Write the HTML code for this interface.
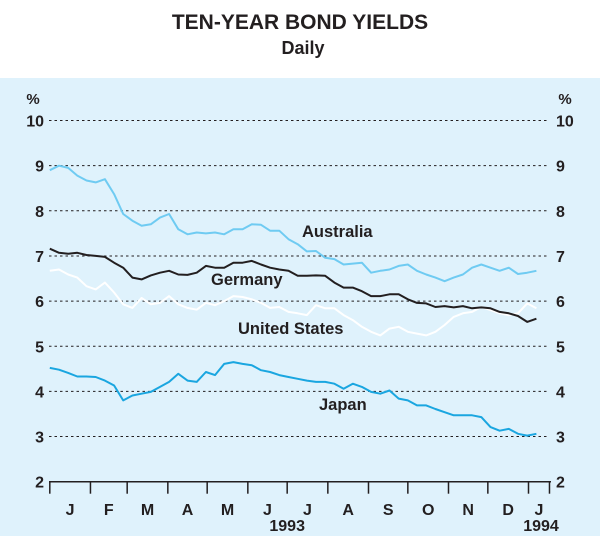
<!DOCTYPE html>
<html><head><meta charset="utf-8"><style>
body{margin:0;width:600px;height:536px;background:#fff;font-family:"Liberation Sans",Arial,sans-serif;overflow:hidden}
</style></head><body>
<svg id="c" width="600" height="536" xmlns="http://www.w3.org/2000/svg" font-family="Liberation Sans, Arial, sans-serif">
<text x="300" y="29" text-anchor="middle" font-size="21" font-weight="bold" fill="#231f20">TEN-YEAR BOND YIELDS</text>
<text x="303" y="54" text-anchor="middle" font-size="18" font-weight="bold" fill="#231f20">Daily</text>
<rect x="0" y="78" width="600" height="458" fill="#dff2fc"/>
<g id="grid"></g><g id="axes"></g><g id="lines"></g>
<text x="302" y="237" font-size="16.5" font-weight="bold" fill="#231f20">Australia</text>
<text x="211" y="285" font-size="16.5" font-weight="bold" fill="#231f20">Germany</text>
<text x="238" y="334" font-size="16.5" font-weight="bold" fill="#231f20">United States</text>
<text x="319" y="410" font-size="16.5" font-weight="bold" fill="#231f20">Japan</text>
</svg>
<script>
const yTicks=[2,3,4,5,6,7,8,9,10];
const monthLabels=["J","F","M","A","M","J","J","A","S","O","N","D","J"];
const monthStartDays=[0,31,59,90,120,151,181,212,243,273,304,334,365];
const australia=[8.90,9.0,8.95,8.78,8.67,8.63,8.7,8.37,7.93,7.78,7.67,7.70,7.85,7.93,7.59,7.48,7.52,7.5,7.52,7.48,7.59,7.59,7.7,7.69,7.56,7.56,7.37,7.26,7.1,7.11,6.96,6.93,6.81,6.83,6.85,6.63,6.67,6.7,6.78,6.81,6.67,6.59,6.52,6.44,6.52,6.59,6.74,6.81,6.74,6.67,6.74,6.6,6.63,6.67];
const germany=[7.16,7.07,7.05,7.07,7.02,7.0,6.98,6.85,6.74,6.52,6.48,6.57,6.63,6.67,6.59,6.58,6.63,6.78,6.74,6.74,6.85,6.85,6.89,6.81,6.74,6.7,6.67,6.56,6.56,6.57,6.56,6.41,6.3,6.3,6.22,6.11,6.11,6.15,6.15,6.04,5.96,5.95,5.87,5.89,5.86,5.89,5.84,5.86,5.84,5.76,5.73,5.67,5.54,5.61];
const unitedStates=[6.67,6.7,6.59,6.52,6.33,6.26,6.41,6.19,5.93,5.85,6.07,5.93,5.96,6.11,5.93,5.85,5.81,5.96,5.91,6.0,6.11,6.09,6.04,5.96,5.85,5.87,5.76,5.73,5.69,5.91,5.84,5.84,5.69,5.58,5.43,5.32,5.24,5.39,5.43,5.32,5.28,5.24,5.32,5.47,5.65,5.73,5.76,5.87,5.8,5.73,5.69,5.73,5.95,5.84];
const japan=[4.52,4.48,4.41,4.33,4.33,4.32,4.24,4.13,3.8,3.91,3.95,3.99,4.1,4.21,4.39,4.24,4.21,4.43,4.36,4.61,4.65,4.61,4.58,4.47,4.43,4.36,4.32,4.28,4.24,4.21,4.21,4.17,4.06,4.17,4.1,3.99,3.95,4.02,3.84,3.8,3.69,3.69,3.61,3.54,3.47,3.47,3.47,3.43,3.21,3.13,3.17,3.06,3.02,3.06];
const NS="http://www.w3.org/2000/svg";
const X0=49.8,PXD=1.3115,Y10=120.5,PYU=45.15;
function xs(d){return X0+d*PXD}
function ys(v){return Y10+(10-v)*PYU}
function mk(t,a,p){const e=document.createElementNS(NS,t);for(const k in a)e.setAttribute(k,a[k]);p.appendChild(e);return e}
const grid=document.getElementById('grid'),axes=document.getElementById('axes'),lines=document.getElementById('lines');
yTicks.forEach(v=>{
 if(v>2){const l=mk('line',{x1:49,x2:549,y1:ys(v),y2:ys(v),stroke:'#231f20','stroke-width':1,'stroke-dasharray':'2.5,3'},grid);
 
 }
 const a=mk('text',{x:44,y:ys(v)+6,'text-anchor':'end','font-size':16,'font-weight':'bold',fill:'#231f20'},axes);a.textContent=v;
 
 
 const b=mk('text',{x:556,y:ys(v)+6,'font-size':16,'font-weight':'bold',fill:'#231f20'},axes);b.textContent=v;
 
 
});
[[33,'left'],[565,'right']].forEach(([x,s])=>{const t=mk('text',{x:x,y:104,'text-anchor':'middle','font-size':15,'font-weight':'bold',fill:'#231f20'},axes);t.textContent='%';
 
 });
const ax=mk('line',{x1:49,x2:551,y1:ys(2),y2:ys(2),stroke:'#231f20','stroke-width':1.5},axes);


const ends=monthStartDays.concat([381]);
ends.forEach((d,i)=>{const t=mk('line',{x1:xs(d),x2:xs(d),y1:ys(2),y2:ys(2)+12,stroke:'#231f20','stroke-width':1.5},axes);
 
 });
monthLabels.forEach((m,i)=>{const c=(xs(ends[i])+xs(ends[i+1]))/2;
 const t=mk('text',{x:c,y:515,'text-anchor':'middle','font-size':16,'font-weight':'bold',fill:'#231f20'},axes);t.textContent=m;
 
 });
[['1993',xs(181)],['1994',541]].forEach(([s,x])=>{const t=mk('text',{x:x,y:531,'text-anchor':'middle','font-size':16,'font-weight':'bold',fill:'#231f20'},axes);t.textContent=s;
 
 });
function draw(arr,col,name){const p=arr.map((v,i)=>xs(i*7).toFixed(1)+','+ys(v).toFixed(1)).join(' ');
 const l=mk('polyline',{points:p,fill:'none',stroke:col,'stroke-width':2,'stroke-linejoin':'round'},lines);
 
 }
draw(unitedStates,'#ffffff','line-united-states');
draw(australia,'#6fcbf2','line-australia');
draw(japan,'#1aa6e0','line-japan');
draw(germany,'#231f20','line-germany');
</script>
</body></html>
